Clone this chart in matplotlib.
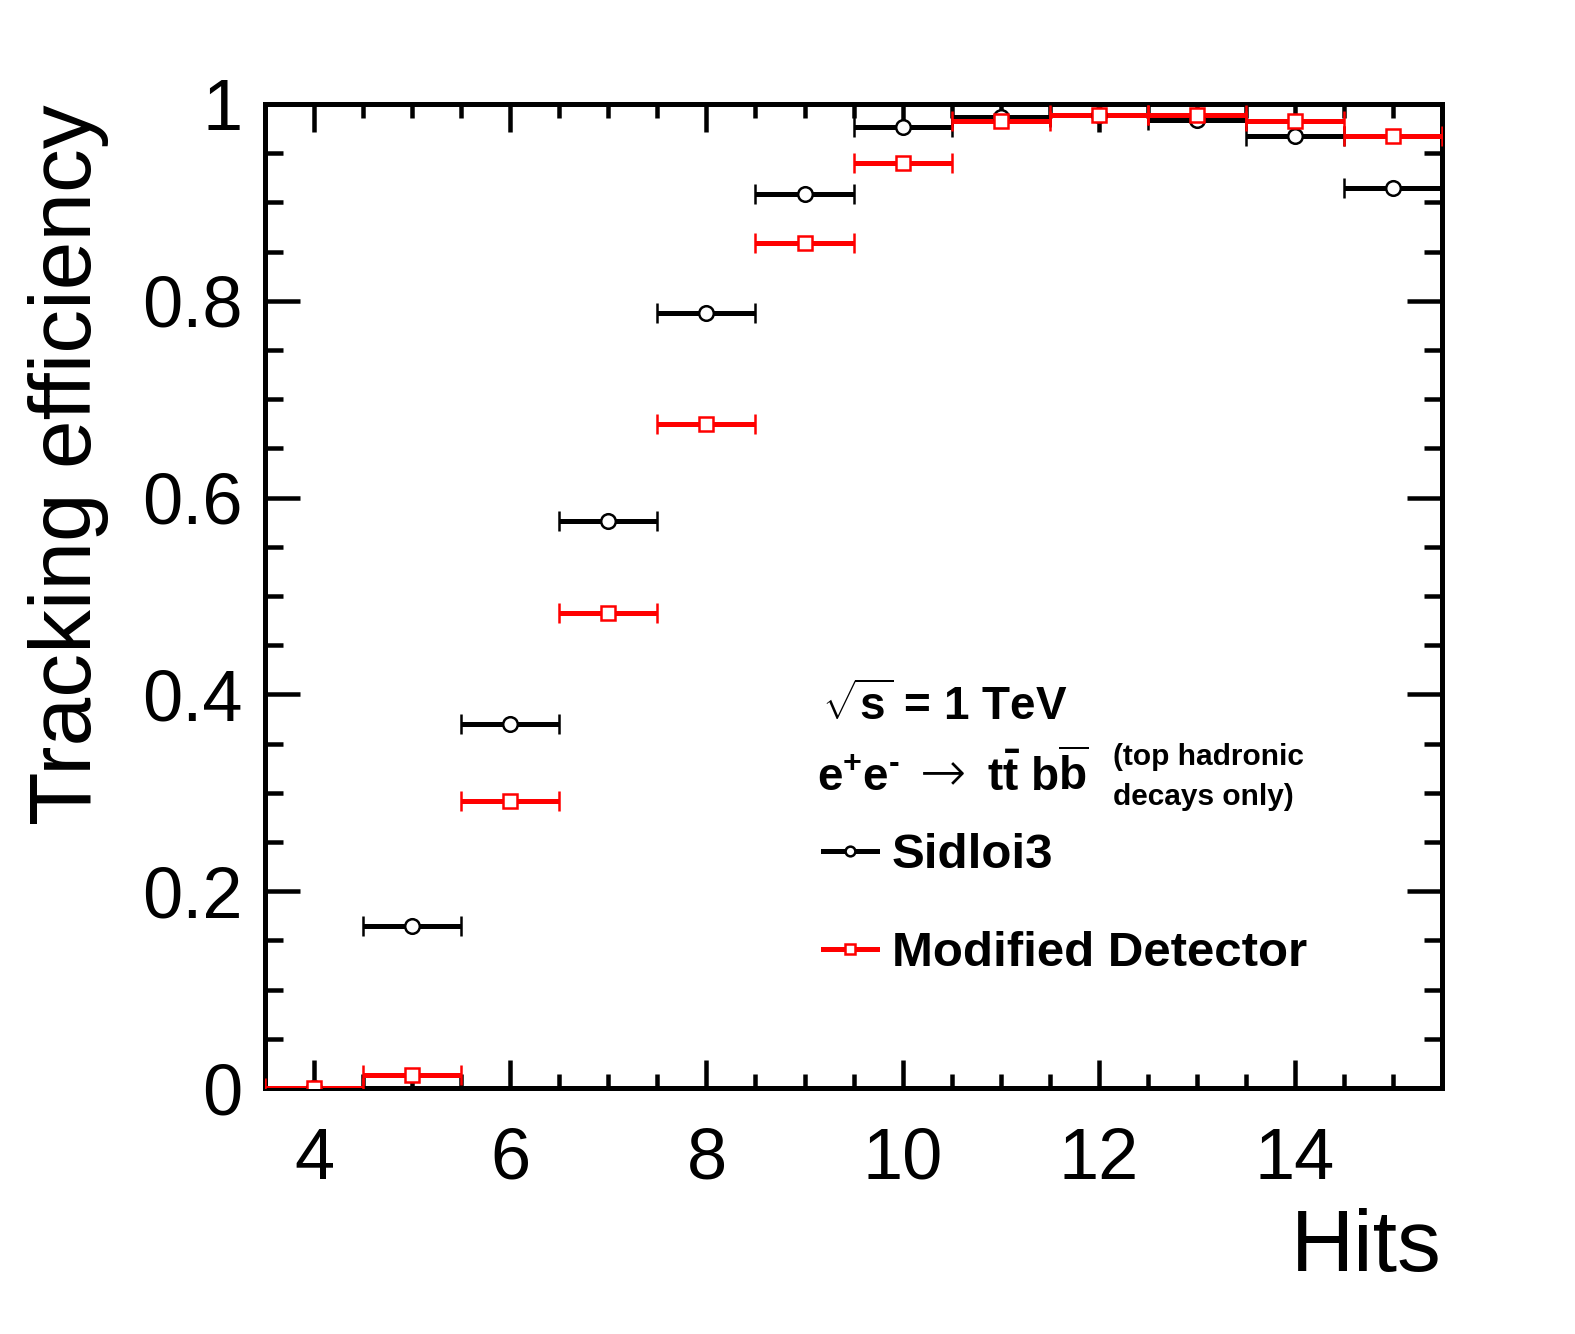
"""Tracking efficiency vs number of hits, Sidloi3 vs modified detector."""

import matplotlib
matplotlib.use("Agg")
import matplotlib.pyplot as plt
from matplotlib.lines import Line2D
from matplotlib.ticker import MultipleLocator
import numpy as np

plt.rcParams["font.family"] = ["Liberation Sans", "DejaVu Sans"]
plt.rcParams["mathtext.fontset"] = "custom"
plt.rcParams["mathtext.rm"] = "Liberation Sans:bold"
plt.rcParams["mathtext.it"] = "Liberation Sans:bold"
plt.rcParams["mathtext.bf"] = "Liberation Sans:bold"

# --- Data ---
hits = [4, 5, 6, 7, 8, 9, 10, 11, 12, 13, 14, 15]
eff_sidloi3 = [0.0, 0.165, 0.370, 0.576, 0.788, 0.909, 0.977, 0.987, 0.989, 0.984, 0.968, 0.915]
eff_modified = [0.0, 0.013, 0.292, 0.483, 0.675, 0.859, 0.940, 0.983, 0.989, 0.989, 0.983, 0.968]
hit_halfwidth = 0.5

LW = 3.6


def draw_series(ax, x, y, color, marker):
    ax.errorbar(x, y, xerr=hit_halfwidth, fmt=marker, color=color,
                mfc="white", mec=color, ms=10.5, mew=1.8,
                elinewidth=LW, capsize=7.5, capthick=LW, clip_on=True, zorder=3)


fig = plt.figure(figsize=(15.75, 13.34), dpi=100)
ax = fig.add_axes([0.1683, 0.1844, 0.9156 - 0.1683, 0.922 - 0.1844])

draw_series(ax, hits, eff_sidloi3, "black", "o")
draw_series(ax, hits, eff_modified, "red", "s")

ax.set_xlim(3.5, 15.5)
ax.set_ylim(0, 1)

ax.xaxis.set_major_locator(MultipleLocator(2))
ax.xaxis.set_minor_locator(MultipleLocator(0.5))
ax.yaxis.set_major_locator(MultipleLocator(0.2))
ax.yaxis.set_minor_locator(MultipleLocator(0.05))
ax.set_yticks([0, 0.2, 0.4, 0.6, 0.8, 1.0])
ax.set_yticklabels(["0", "0.2", "0.4", "0.6", "0.8", "1"])

ax.tick_params(which="both", direction="in", top=True, right=True, width=LW * 0.9)
ax.tick_params(axis="x", which="major", length=20, labelsize=52, pad=28)
ax.tick_params(axis="x", which="minor", length=10)
ax.tick_params(axis="y", which="major", length=25, labelsize=52, pad=16)
ax.tick_params(axis="y", which="minor", length=13)
for sp in ax.spines.values():
    sp.set_linewidth(LW)

ax.set_xlabel("Hits", fontsize=63, loc="right")
ax.xaxis.set_label_coords(1.0, -0.122)
ax.set_ylabel("Tracking efficiency", fontsize=63, loc="top")
ax.yaxis.set_label_coords(-0.133, 1.0)

# --- annotation block ---
ax.text(0.473, 0.374, r"$\sqrt{s}$ = 1 TeV", transform=ax.transAxes,
        fontsize=33, fontweight="bold", va="baseline")
ax.text(0.469, 0.302, r"e$^{+}$e$^{\text{-}}$", transform=ax.transAxes,
        fontsize=33, fontweight="bold", va="baseline")
ax.text(0.556, 0.302, "\u2192", transform=ax.transAxes, family="DejaVu Sans",
        fontsize=40, fontweight="light", va="baseline")
ax.text(0.613, 0.302, r"t$\bar{\rm t}$ b$\overline{\rm b}$", transform=ax.transAxes,
        fontsize=33, fontweight="bold", va="baseline")
ax.text(0.720, 0.328, "(top hadronic", transform=ax.transAxes,
        fontsize=21.5, fontweight="bold", va="baseline")
ax.text(0.720, 0.288, "decays only)", transform=ax.transAxes,
        fontsize=21.5, fontweight="bold", va="baseline")

handles = [
    Line2D([], [], color="black", lw=LW, marker="o", ms=7, mfc="white", mew=1.8),
    Line2D([], [], color="red", lw=LW, marker="s", ms=7, mfc="white", mew=1.8),
]
ax.legend(handles, ["Sidloi3", "Modified Detector"], loc="upper left",
          bbox_to_anchor=(0.474, 0.259), frameon=False, handlelength=1.1,
          handletextpad=0.3, labelspacing=1.07,
          prop={"size": 35.5, "weight": "bold"}, borderaxespad=0, borderpad=0)

fig.savefig("out.png", dpi=100)
